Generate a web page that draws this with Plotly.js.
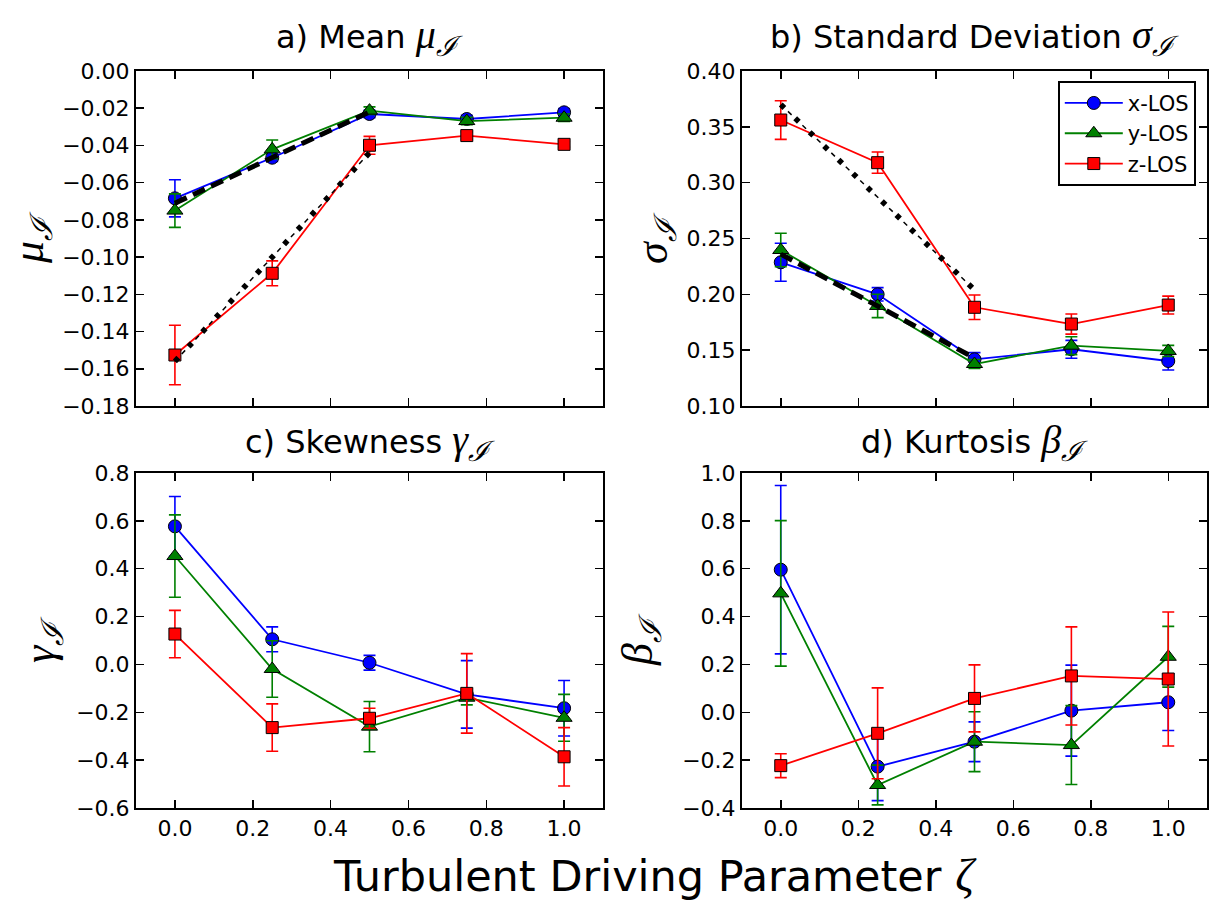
<!DOCTYPE html>
<html>
<head>
<meta charset="utf-8">
<script src="https://cdn.plot.ly/plotly-3.0.1.min.js"></script>
<style>html,body{margin:0;padding:0;background:#fff;}#chart{width:1220px;height:900px;}</style>
</head>
<body>
<div id="chart"></div>
<script>
// ---- data ----
const zeta = [0.0, 0.25, 0.5, 0.75, 1.0];
const seriesNames = ['x-LOS', 'y-LOS', 'z-LOS'];

const meanX = [-0.0684, -0.0466, -0.0231, -0.0258, -0.0222];
const meanXErr = [0.0100, 0.0020, 0.0020, 0.0020, 0.0020];
const meanY = [-0.0750, -0.0421, -0.0213, -0.0269, -0.0251];
const meanYErr = [0.0090, 0.0050, 0.0020, 0.0020, 0.0020];
const meanZ = [-0.1526, -0.1087, -0.0399, -0.0347, -0.0394];
const meanZErr = [0.0160, 0.0067, 0.0048, 0.0020, 0.0015];

const stdX = [0.2287, 0.2000, 0.1418, 0.1508, 0.1403];
const stdXErr = [0.0170, 0.0060, 0.0060, 0.0080, 0.0080];
const stdY = [0.2397, 0.1896, 0.1376, 0.1540, 0.1493];
const stdYErr = [0.0150, 0.0105, 0.0040, 0.0080, 0.0050];
const stdZ = [0.3561, 0.3179, 0.1884, 0.1734, 0.1904];
const stdZErr = [0.0173, 0.0095, 0.0110, 0.0090, 0.0080];

const skewX = [0.577, 0.105, 0.007, -0.125, -0.183];
const skewXErr = [0.125, 0.052, 0.031, 0.141, 0.116];
const skewY = [0.453, -0.019, -0.260, -0.139, -0.223];
const skewYErr = [0.172, 0.118, 0.105, 0.030, 0.098];
const skewZ = [0.127, -0.264, -0.225, -0.121, -0.386];
const skewZErr = [0.099, 0.099, 0.042, 0.166, 0.122];

const kurtX = [0.596, -0.227, -0.123, 0.007, 0.042];
const kurtXErr = [0.352, 0.142, 0.083, 0.190, 0.118];
const kurtY = [0.497, -0.304, -0.123, -0.137, 0.232];
const kurtYErr = [0.304, 0.083, 0.125, 0.165, 0.127];
const kurtZ = [-0.223, -0.088, 0.058, 0.152, 0.139];
const kurtZErr = [0.050, 0.190, 0.140, 0.205, 0.280];

// reference (black) lines, panels a and b
const refZeta = [0.0, 0.5];
const meanRefDash = [-0.071, -0.022];
const meanRefDashDot = [-0.156, -0.044];
const stdRefDash = [0.236, 0.143];
const stdRefDashDot = [0.370, 0.204];

const xTickVals = [0, 0.2, 0.4, 0.6, 0.8, 1.0];
const xTickText = ['0.0', '0.2', '0.4', '0.6', '0.8', '1.0'];

// ---- styles ----
const colors = ['#0000ff', '#008000', '#ff0000'];
const symbols = ['circle', 'triangle-up', 'square'];
const msizes = [13, 14, 12];

function series(k, ys, errs, xa, ya, showLegend) {
  return {
    x: zeta, y: ys, name: seriesNames[k], type: 'scatter', mode: 'lines+markers',
    xaxis: xa, yaxis: ya, showlegend: showLegend, legendgroup: seriesNames[k],
    line: {color: colors[k], width: 1.8},
    marker: {symbol: symbols[k], size: msizes[k], color: colors[k], line: {color: '#000', width: 1}},
    error_y: {type: 'data', array: errs, visible: true, color: colors[k], thickness: 1.6, width: 6}
  };
}
function refDash(ys, xa, ya) {
  return {x: refZeta, y: ys, type: 'scatter', mode: 'lines', xaxis: xa, yaxis: ya, showlegend: false,
    hoverinfo: 'skip', line: {color: '#000', width: 5, dash: '13px,7px'}};
}
function refDotPart(ys, xa, ya) {
  return {x: refZeta, y: ys, type: 'scatter', mode: 'lines', xaxis: xa, yaxis: ya, showlegend: false,
    hoverinfo: 'skip', line: {color: '#000', width: 5.5, dash: '5px,15px'}};
}
function refThinPart(ys, xa, ya) {
  return {x: refZeta, y: ys, type: 'scatter', mode: 'lines', xaxis: xa, yaxis: ya, showlegend: false,
    hoverinfo: 'skip', line: {color: '#000', width: 1.5, dash: '0px,10px,5px,5px'}};
}

const traces = [
  series(0, meanX, meanXErr, 'x', 'y', true),
  series(1, meanY, meanYErr, 'x', 'y', true),
  series(2, meanZ, meanZErr, 'x', 'y', true),
  refDash(meanRefDash, 'x', 'y'),
  refDotPart(meanRefDashDot, 'x', 'y'),
  refThinPart(meanRefDashDot, 'x', 'y'),

  series(0, stdX, stdXErr, 'x2', 'y2', false),
  series(1, stdY, stdYErr, 'x2', 'y2', false),
  series(2, stdZ, stdZErr, 'x2', 'y2', false),
  refDash(stdRefDash, 'x2', 'y2'),
  refDotPart(stdRefDashDot, 'x2', 'y2'),
  refThinPart(stdRefDashDot, 'x2', 'y2'),

  series(0, skewX, skewXErr, 'x3', 'y3', false),
  series(1, skewY, skewYErr, 'x3', 'y3', false),
  series(2, skewZ, skewZErr, 'x3', 'y3', false),

  series(0, kurtX, kurtXErr, 'x4', 'y4', false),
  series(1, kurtY, kurtYErr, 'x4', 'y4', false),
  series(2, kurtZ, kurtZErr, 'x4', 'y4', false)
];

const W = 1220, H = 900;
const axBase = {
  showline: true, linewidth: 2, linecolor: '#000', mirror: 'allticks',
  ticks: 'inside', ticklen: 8, tickwidth: 1.5, tickcolor: '#000',
  showgrid: false, zeroline: false,
  tickfont: {family: 'DejaVu Sans', size: 22, color: '#000'}
};
function xax(domain, anchor, labels) {
  return Object.assign({}, axBase, {
    domain: domain, anchor: anchor, range: [-0.1, 1.1],
    tickmode: 'array', tickvals: xTickVals, ticktext: xTickText,
    showticklabels: labels
  });
}
function yax(domain, anchor, range, dtick, fmt) {
  return Object.assign({}, axBase, {
    domain: domain, anchor: anchor, range: range, dtick: dtick, tick0: 0, tickformat: fmt
  });
}
const dxL = [136 / W, 603 / W];
const dxR = [742 / W, 1207 / W];
const dyT = [1 - 406 / H, 1 - 71 / H];
const dyB = [1 - 808 / H, 1 - 473 / H];

function sym(greek) { return '<i>' + greek + '</i><sub><i>ℐ</i></sub>'; }
function titleAnn(x, y, label, greek) {
  return {
    xref: 'paper', yref: 'paper', x: x, y: y, xanchor: 'center', yanchor: 'middle', showarrow: false,
    text: label + ' <span style="font-family:\'Liberation Serif\';font-size:40px">' + sym(greek) + '</span>',
    font: {family: 'DejaVu Sans', size: 32, color: '#000'}
  };
}
function yTitleAnn(xpx, ypx, greek) {
  return {
    xref: 'paper', yref: 'paper', x: xpx / W, y: 1 - ypx / H, xanchor: 'center', yanchor: 'middle',
    showarrow: false, textangle: -90, text: sym(greek),
    font: {family: 'Liberation Serif', size: 44, color: '#000'}
  };
}

const layout = {
  width: W, height: H,
  margin: {l: 0, r: 0, t: 0, b: 0},
  paper_bgcolor: '#fff', plot_bgcolor: '#fff',
  font: {family: 'DejaVu Sans', color: '#000'},
  xaxis: xax(dxL, 'y', false),
  yaxis: yax(dyT, 'x', [-0.18, 0.0], 0.02, '.2f'),
  xaxis2: xax(dxR, 'y2', false),
  yaxis2: yax(dyT, 'x2', [0.10, 0.40], 0.05, '.2f'),
  xaxis3: xax(dxL, 'y3', true),
  yaxis3: yax(dyB, 'x3', [-0.6, 0.8], 0.2, '.1f'),
  xaxis4: xax(dxR, 'y4', true),
  yaxis4: yax(dyB, 'x4', [-0.4, 1.0], 0.2, '.1f'),
  showlegend: true,
  legend: {
    x: 1058 / W, y: 1 - 81 / H, xanchor: 'left', yanchor: 'top',
    bgcolor: '#fff', bordercolor: '#000', borderwidth: 1.8,
    font: {family: 'DejaVu Sans', size: 21, color: '#000'},
    tracegroupgap: 0, itemwidth: 58
  },
  annotations: [
    titleAnn((dxL[0] + dxL[1]) / 2, 1 - 37 / H, 'a) Mean', 'μ'),
    titleAnn((dxR[0] + dxR[1]) / 2, 1 - 37 / H, 'b) Standard Deviation', 'σ'),
    titleAnn((dxL[0] + dxL[1]) / 2, 1 - 442 / H, 'c) Skewness', 'γ'),
    titleAnn((dxR[0] + dxR[1]) / 2, 1 - 442 / H, 'd) Kurtosis', 'β'),
    yTitleAnn(31, 238, 'μ'),
    yTitleAnn(655, 238, 'σ'),
    yTitleAnn(42, 640, 'γ'),
    yTitleAnn(640, 640, 'β'),
    {
      xref: 'paper', yref: 'paper', x: 655 / W, y: 1 - 875 / H, xanchor: 'center', yanchor: 'middle',
      showarrow: false,
      text: 'Turbulent Driving Parameter <span style="font-family:\'Liberation Serif\';font-size:46px"><i>ζ</i></span>',
      font: {family: 'DejaVu Sans', size: 43, color: '#000'}
    }
  ]
};

Plotly.newPlot('chart', traces, layout, {displayModeBar: false, staticPlot: true});
</script>
</body>
</html>
